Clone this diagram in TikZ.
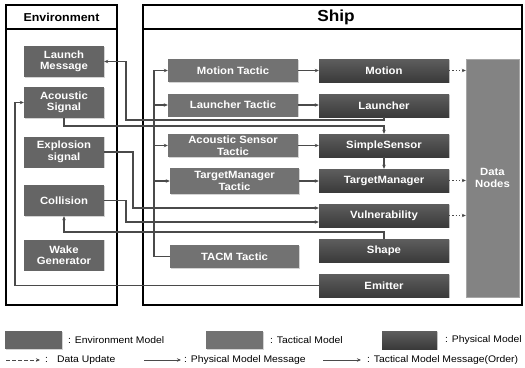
\documentclass[tikz,border=0pt]{standalone}
\usepackage{fontspec}
\setmainfont{Liberation Sans}[FakeStretch=1.08]
\usetikzlibrary{arrows.meta,shadows}
\definecolor{envgray}{HTML}{656565}
\definecolor{tacgray}{HTML}{727272}
\definecolor{phytop}{HTML}{5E5E5E}
\definecolor{phybot}{HTML}{3A3A3A}
\definecolor{datagray}{HTML}{838383}
\definecolor{wire}{HTML}{4A4A4A}
\begin{document}
\begin{tikzpicture}[x=1pt,y=-1pt,
  box/.style={rectangle,draw=none,text=white,align=center,inner sep=0pt,
    font=\fontsize{10.5}{11.5}\selectfont\bfseries,
    drop shadow={shadow xshift=0.8pt,shadow yshift=-0.8pt,opacity=0.35}},
  envbox/.style={box,fill=envgray,minimum width=80pt,minimum height=31pt},
  tacbox/.style={box,fill=tacgray,minimum width=130pt,minimum height=23pt},
  phybox/.style={box,top color=phytop,bottom color=phybot,minimum width=130pt,minimum height=23pt},
  databox/.style={box,fill=datagray,draw=gray!70,minimum width=53pt,minimum height=238pt},
  swatch/.style={box,minimum width=57pt,minimum height=18pt},
  frameline/.style={line width=1.2pt,draw=black},
  wireline/.style={draw=wire,line width=1.2pt},
  arr/.style={wireline,-{Stealth[length=4pt,width=3.5pt]}},
  dotarr/.style={wireline,dotted,-{Stealth[length=4pt,width=3.5pt]}},
  legtext/.style={anchor=west,inner sep=0pt,font=\fontsize{9.6}{11}\selectfont},
]
\useasboundingbox (0,0) rectangle (525,367);

% frames
\draw[frameline] (6,5) rectangle (117,305);
\draw[frameline] (6,29) -- (117,29);
\node[font=\fontsize{11.5}{12}\selectfont\bfseries] (envtitle) at (61.5,17) {Environment};
\draw[frameline] (143,5) rectangle (522,305);
\draw[frameline] (143,29) -- (522,29);
\node[font=\fontsize{16}{17}\selectfont\bfseries] (shiptitle) at (336,17) {Ship};

% environment models
\node[envbox] (lm)   at (64,61.5)  {Launch\\Message};
\node[envbox] (as)   at (64,102.5) {Acoustic\\Signal};
\node[envbox] (es)   at (64,152)   {Explosion\\signal};
\node[envbox] (col)  at (64,200.5) {Collision};
\node[envbox] (wake) at (64,255)   {Wake\\Generator};

% tactical models
\node[tacbox] (mt)   at (233,70.5)  {Motion Tactic};
\node[tacbox] (lt)   at (233,105)   {Launcher Tactic};
\node[tacbox] (ast)  at (233,145.5) {Acoustic Sensor\\Tactic};
\node[tacbox,minimum width=129pt,minimum height=26pt] (tmt) at (234.5,181) {TargetManager\\Tactic};
\node[tacbox,minimum width=129pt] (tacm) at (234.5,256.5) {TACM Tactic};

% physical models
\node[phybox] (mo) at (384,70.5)  {Motion};
\node[phybox] (la) at (384,105.5) {Launcher};
\node[phybox] (ss) at (384,145.5) {SimpleSensor};
\node[phybox] (tm) at (384,180.5) {TargetManager};
\node[phybox] (vu) at (384,215.5) {Vulnerability};
\node[phybox] (sh) at (384,250.5) {Shape};
\node[phybox] (em) at (384,285.5) {Emitter};

% data nodes
\node[databox] (dn) at (492.5,178) {Data\\Nodes};

% routing points
\coordinate (bus) at (154,0);
\coordinate (j1) at (126,120);
\coordinate (k1) at (384,126);
\coordinate (e1) at (133,208);
\coordinate (c1) at (126,222);
\coordinate (s1) at (384,232);
\coordinate (wl) at (15,0);

% tactical orders
\draw[arr] (tacm.west) -| (bus |- mt.west) -- (mt.west);
\draw[arr] (bus |- lt.west) -- (lt.west);
\draw[arr] (bus |- ast.west) -- (ast.west);
\draw[arr] (bus |- tmt.west) -- (tmt.west);
\draw[arr] (mt.east) -- (mo.west);
\draw[arr] (lt.east) -- (la.west |- lt.east);
\draw[arr] (ast.east) -- (ss.west);
\draw[arr] (tmt.east) -- (tm.west |- tmt.east);

% physical model messages
\draw[arr] (la.south) |- (j1) |- (lm.east);
\draw[arr] (as.south) |- (k1) -- (ss.north);
\draw[arr] (ss.south) -- (tm.north);
\draw[arr] (es.east) -| (e1) -- (e1 -| vu.west);
\draw[arr] (col.east) -| (c1) -- (c1 -| vu.west);
\draw[arr] (sh.north) -- (s1) -| (col.south);
\draw[arr] (em.west) -- (em.west -| wl) |- (as.west);

% data updates
\draw[dotarr] (mo.east) -- (mo.east -| dn.west);
\draw[dotarr] (tm.east) -- (tm.east -| dn.west);
\draw[dotarr] (vu.east) -- (vu.east -| dn.west);

% legend
\node[swatch,fill=envgray] (lg1) at (33.5,340) {};
\node[legtext] (lt1) at (68,340) {: Environment Model};
\node[swatch,fill=tacgray] (lg2) at (234.5,340) {};
\node[legtext] (lt2) at (270,340) {: Tactical Model};
\node[swatch,top color=phytop,bottom color=phybot,minimum width=55pt] (lg3) at (409.5,340) {};
\node[legtext] (lt3) at (445,340) {: Physical Model};

\coordinate (d0) at (6,360);
\coordinate (d1) at (40,360);
\draw[wireline,dash pattern=on 4pt off 2pt,-{Stealth[length=4pt,width=3.5pt]},line width=1pt] (d0) -- (d1);
\node[legtext] (lt4) at (45,360) {:\hspace{9pt}Data Update};
\coordinate (p0) at (144,360);
\coordinate (p1) at (181,360);
\draw[arr,line width=1pt] (p0) -- (p1);
\node[legtext] (lt5) at (184,360) {: Physical Model Message};
\coordinate (q0) at (323,360);
\coordinate (q1) at (361,360);
\draw[arr,line width=1pt] (q0) -- (q1);
\node[legtext] (lt6) at (367,360) {: Tactical Model Message(Order)};
\end{tikzpicture}
\end{document}
